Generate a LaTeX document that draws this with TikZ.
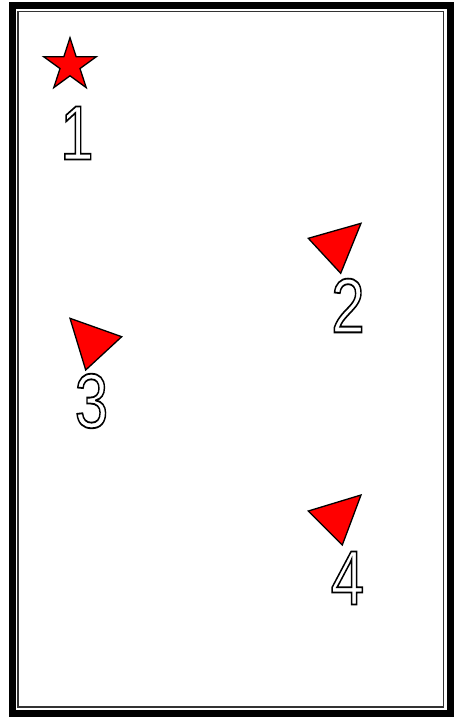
\documentclass[tikz,border=0pt]{standalone}
\usepackage{fontspec}
\newfontfamily\digitfont{Liberation Sans}
\newcommand{\outlinetext}[1]{\special{pdf:literal direct 1 Tr 1.8 w 0 G}#1\special{pdf:literal direct 0 Tr}}
\begin{document}
\begin{tikzpicture}[x=1pt,y=-1pt,
  marker/.style={fill=red, draw=black, line width=1.3pt, line join=miter},
  digit/.style={font=\digitfont\fontsize{77}{77}\selectfont, inner sep=0pt, xscale=0.78}]
\fill[white] (0,0) rectangle (456,718);
\useasboundingbox (0,0) rectangle (456,718);
% frame
\draw[line width=6.5pt] (12.3,5.5) rectangle (450.3,713.6);
\draw[line width=1.6pt, black!80] (17.8,11.6) rectangle (443.6,707.2);
% star
\begin{scope}[shift={(70,65.3)}]
\draw[marker] (90:27.6pt) -- (126:10.5pt) -- (162:27.6pt) -- (198:10.5pt) -- (234:27.6pt) -- (270:10.5pt) -- (306:27.6pt) -- (342:10.5pt) -- (18:27.6pt) -- (54:10.5pt) -- cycle;
\end{scope}
% triangles
\draw[marker] (308.3,238.3) -- (361,223.3) -- (340.7,273.3) -- cycle;
\draw[marker] (70,318.3) -- (121.7,336.7) -- (85.7,370) -- cycle;
\draw[marker] (308.3,511) -- (361,495) -- (342.3,545) -- cycle;
% labels
\node[digit] (n1) at (77,133) {\outlinetext{1}};
\node[digit] (n2) at (348,305.5) {\outlinetext{2}};
\node[digit] (n3) at (91.5,401) {\outlinetext{3}};
\node[digit] (n4) at (347.5,578) {\outlinetext{4}};
\end{tikzpicture}
\end{document}
